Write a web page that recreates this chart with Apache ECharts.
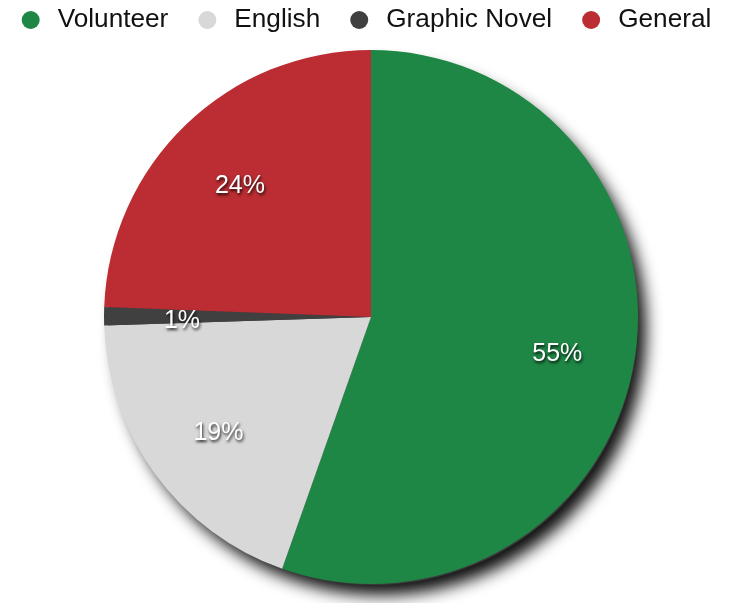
<!DOCTYPE html>
<html><head><meta charset="utf-8">
<script src="https://cdn.jsdelivr.net/npm/echarts@6/dist/echarts.min.js"></script>
<style>html,body{margin:0;padding:0;background:#fff}#c{width:733px;height:603px}</style>
</head><body><div id="c"></div>
<script>
const categories = ['Volunteer', 'English', 'Graphic Novel', 'General'];
const values = [55.4, 19.1, 1.1, 24.4];
const colors = ['#1f8745', '#d8d8d8', '#404040', '#bb2d32'];

const total = values.reduce((a, b) => a + b, 0);
const data = categories.map((n, i) => ({ name: n, value: values[i], itemStyle: { color: colors[i] } }));
const labelData = categories.map((n, i) => ({ name: n, value: values[i] }));

const chart = echarts.init(document.getElementById('c'), null, { renderer: 'canvas' });
chart.setOption({
  animation: false,
  legend: {
    top: 2,
    left: 'center',
    icon: 'circle',
    itemWidth: 18,
    itemHeight: 18,
    itemGap: 30,
    data: categories,
    textStyle: { fontFamily: 'Liberation Sans, Arial, sans-serif', fontSize: 26.2, color: '#111', padding: [0, 0, 0, 13] }
  },
  series: [
    {
      type: 'pie',
      z: 1,
      center: [373, 320],
      radius: [0, 265],
      silent: true,
      legendHoverLink: false,
      data: [{ name: '_shadow', value: 1 }],
      label: { show: false },
      labelLine: { show: false },
      itemStyle: {
        color: '#3a3a3a',
        shadowBlur: 16,
        shadowOffsetX: 8,
        shadowOffsetY: 10,
        shadowColor: 'rgba(0,0,0,0.95)'
      }
    },
    {
      type: 'pie',
      z: 2,
      center: [371, 317],
      radius: [0, 267],
      startAngle: 90,
      clockwise: true,
      data: data,
      label: { show: false },
      labelLine: { show: false },
      emphasis: { disabled: true }
    },
    {
      type: 'pie',
      z: 3,
      center: [371, 322],
      radius: [0, 372],
      startAngle: 90,
      clockwise: true,
      silent: true,
      legendHoverLink: false,
      data: labelData,
      itemStyle: { color: 'rgba(0,0,0,0)' },
      labelLine: { show: false },
      label: {
        show: true,
        position: 'inside',
        formatter: p => Math.round(p.value / total * 100) + '%',
        color: '#fff',
        fontFamily: 'Liberation Sans, Arial, sans-serif',
        fontSize: 25,
        textShadowColor: 'rgba(0,0,0,0.85)',
        textShadowBlur: 3,
        textShadowOffsetX: 1,
        textShadowOffsetY: 2
      }
    }
  ]
});
</script></body></html>
